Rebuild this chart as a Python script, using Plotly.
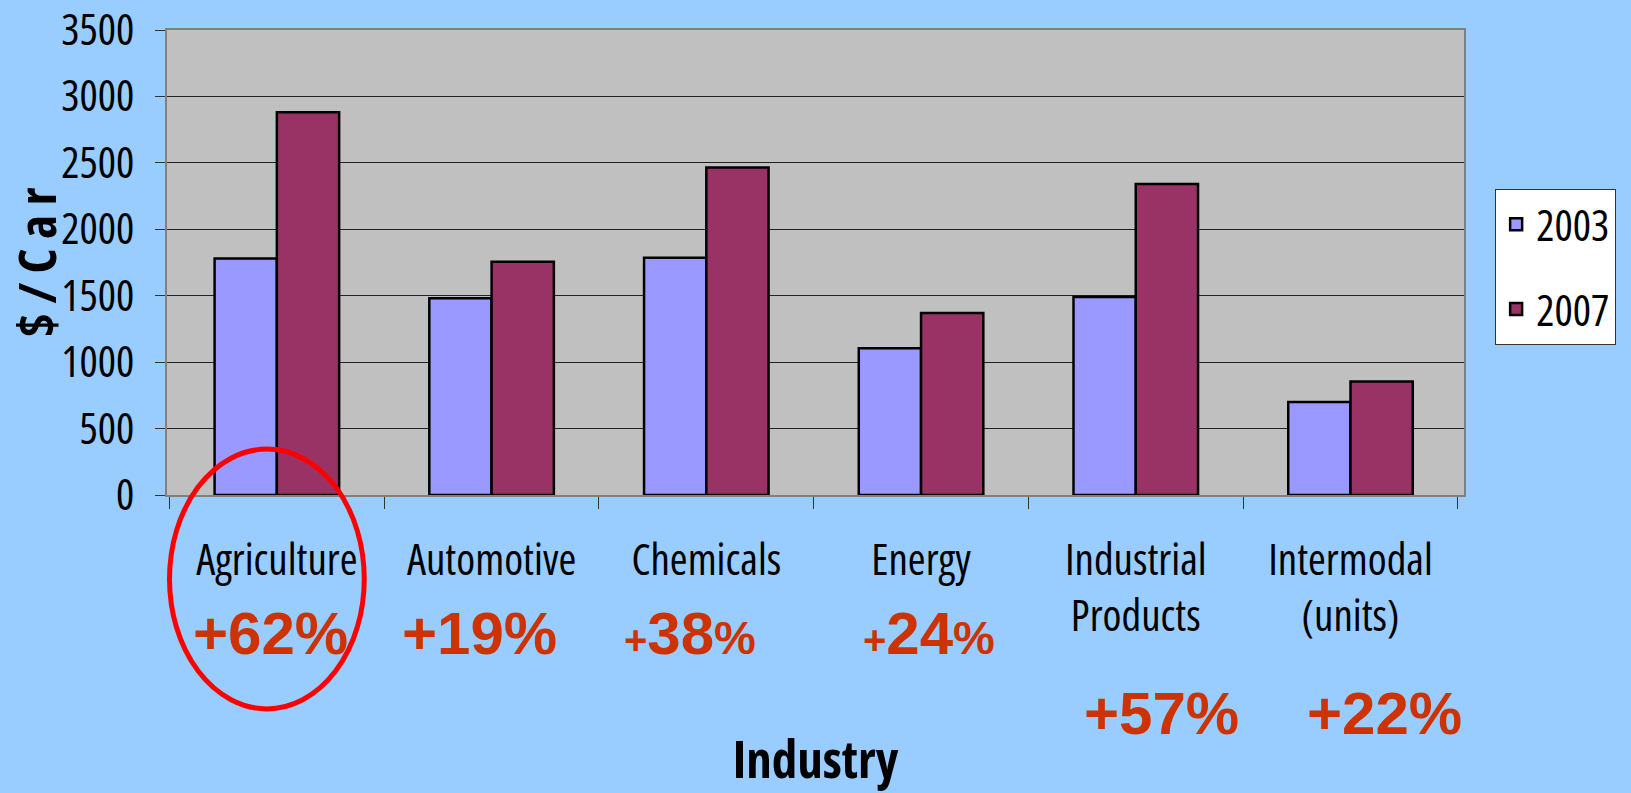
import plotly.graph_objects as go

industries = ["Agriculture", "Automotive", "Chemicals", "Energy",
              "Industrial Products", "Intermodal (units)"]
industry_labels = ["Agriculture", "Automotive", "Chemicals", "Energy",
                   "Industrial<br>Products", "Intermodal<br>(units)"]
values_2003 = [1780, 1480, 1785, 1105, 1490, 700]
values_2007 = [2880, 1755, 2465, 1370, 2340, 855]
growth_labels = ["+62%", "+19%",
                 "<span style='font-size:40px'>+</span>38<span style='font-size:47px'>%</span>",
                 "<span style='font-size:40px'>+</span>24<span style='font-size:47px'>%</span>",
                 "+57%", "+22%"]
y_ticks = [0, 500, 1000, 1500, 2000, 2500, 3000, 3500]


def narrow(t):
    # condensed width of the Open Sans variable font
    return "<span style='font-stretch:condensed'>" + t.replace("<br>", "</span><br><span style='font-stretch:condensed'>") + "</span>"


FAM = "Open Sans, Roboto, sans-serif"

fig = go.Figure()
fig.add_trace(go.Bar(x=industries, y=values_2003, name=narrow("2003"), legendgroup="a",
                     marker=dict(color="#9999FF", line=dict(color="black", width=2.5))))
fig.add_trace(go.Bar(x=industries, y=values_2007, name=narrow("2007"), legendgroup="b",
                     marker=dict(color="#993366", line=dict(color="black", width=2.5))))

shifts = [-6, -12, -16, 8, 26, 34]
rows = [-0.2986, -0.2986, -0.2986, -0.2986, -0.469, -0.469]
for cat, lab, dx, yy in zip(industries, growth_labels, shifts, rows):
    fig.add_annotation(x=cat, xref="x", y=yy, yref="paper", text=lab, showarrow=False,
                       xshift=dx, font=dict(family="Liberation Sans, Arial, sans-serif",
                                            size=60, color="#CC3300", weight="bold"),
                       xanchor="center", yanchor="middle")

fig.add_shape(type="circle", xref="x", yref="paper", x0=-0.5, x1=0.407, y0=-0.46, y1=0.0988,
              line=dict(color="#FF0000", width=5), fillcolor="rgba(0,0,0,0)", layer="above")

fig.update_layout(
    width=1631, height=793,
    margin=dict(l=167, r=167, t=30, b=298, autoexpand=False),
    paper_bgcolor="#99CCFF", plot_bgcolor="#C0C0C0",
    barmode="group", bargap=0.42, bargroupgap=0,
    font=dict(family=FAM, color="black"),
    showlegend=True,
    legend=dict(x=1.024, xanchor="left", y=0.491, yanchor="middle",
                bgcolor="white", bordercolor="#333333", borderwidth=1,
                font=dict(family=FAM, size=43), tracegroupgap=26, itemwidth=30),
    xaxis=dict(
        type="category", tickson="boundaries", ticks="outside", ticklen=12,
        tickcolor="#333333", tickwidth=1, showline=True, linecolor="#808080", linewidth=2,
        mirror=True, tickangle=0, automargin=False,
        tickvals=industries, ticktext=[narrow(t) for t in industry_labels],
        tickfont=dict(family=FAM, size=43), ticklabelstandoff=26,
        title=dict(text=narrow("<b>Industry</b>"), font=dict(family=FAM, size=51), standoff=100),
    ),
    yaxis=dict(
        range=[0, 3500], tickvals=y_ticks, ticktext=[narrow(str(v)) for v in y_ticks],
        ticks="outside", ticklen=10, tickcolor="#333333", automargin=False,
        ticklabeloverflow="allow",
        showline=True, linecolor="#808080", linewidth=2, mirror=True,
        showgrid=True, gridcolor="#222222", gridwidth=1, zeroline=False,
        tickfont=dict(family=FAM, size=43), ticklabelstandoff=12,
        title=dict(text=narrow("<b>$ / C a r</b>"), font=dict(family=FAM, size=52), standoff=8),
    ),
)

fig.write_html("out.html")
